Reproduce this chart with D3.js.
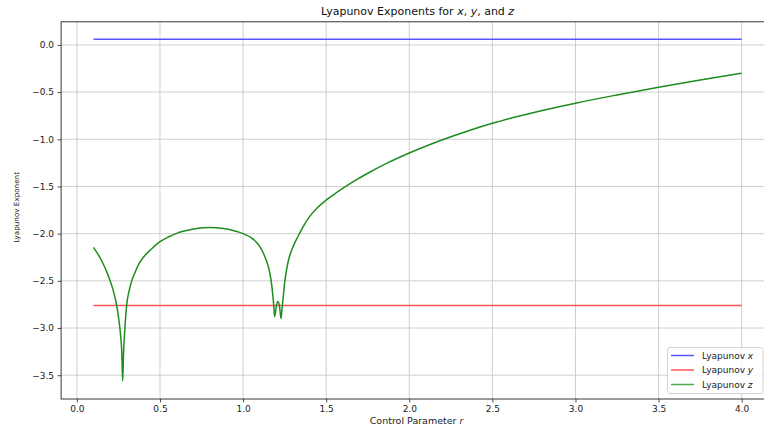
<!DOCTYPE html>
<html>
<head>
<meta charset="utf-8">
<script src="https://cdn.jsdelivr.net/npm/d3@7"></script>
<style>
  html, body { margin: 0; padding: 0; background: #fff; }
  svg { display: block; font-family: "DejaVu Sans", sans-serif; }
</style>
</head>
<body>
<svg id="chart" width="764" height="427"></svg>
<script>
// ---- data ----
const rStart = 0.1, rEnd = 4.0;
const lyapX = 0.06;          // constant exponent for x
const lyapY = -2.76;         // constant exponent for y
// exponent for z: r values and exponent values
const zR = [0.10, 0.15, 0.19, 0.215, 0.235, 0.25, 0.262, 0.27, 0.2755,
            0.281, 0.289, 0.2996, 0.315, 0.33, 0.35, 0.37, 0.40, 0.45, 0.50, 0.55, 0.60, 0.64, 0.72, 0.80, 0.88, 0.94, 0.97, 1.00,
            1.05, 1.08, 1.10, 1.12, 1.14, 1.155, 1.167, 1.177, 1.184, 1.19,
            1.20, 1.21, 1.22, 1.228,
            1.235, 1.242, 1.25, 1.26, 1.272, 1.285, 1.30, 1.33, 1.36, 1.40, 1.45, 1.50, 1.55, 1.613, 1.68, 1.75, 1.875,
            2.0, 2.125, 2.25, 2.375, 2.5, 2.625, 2.75, 3.0, 3.25, 3.5, 3.75, 4.0];
const zV = [-2.145, -2.29, -2.45, -2.58, -2.72, -2.88, -3.06, -3.25, -3.56,
            -3.25, -3.00, -2.756, -2.60, -2.50, -2.41, -2.33, -2.25, -2.16, -2.085, -2.035, -1.997, -1.975, -1.945, -1.935, -1.945, -1.966, -1.981, -2.00,
            -2.045, -2.09, -2.135, -2.20, -2.285, -2.37, -2.48, -2.62, -2.75, -2.88,
            -2.77, -2.72, -2.78, -2.90,
            -2.78, -2.66, -2.52, -2.40, -2.29, -2.21, -2.14, -2.03, -1.93, -1.82, -1.72, -1.645, -1.58, -1.505, -1.43, -1.36, -1.245,
            -1.145, -1.055, -0.973, -0.898, -0.83, -0.77, -0.715, -0.617, -0.53, -0.448, -0.372, -0.30];
const xTicks = [0.0, 0.5, 1.0, 1.5, 2.0, 2.5, 3.0, 3.5, 4.0];
const yTicks = [0.0, -0.5, -1.0, -1.5, -2.0, -2.5, -3.0, -3.5];
const seriesNames = ["x", "y", "z"];
const seriesColors = ["#5555ff", "#ff5555", "#1f8c1f"];
const legendColors = ["#5555ff", "#ff5555", "#55aa55"];

// ---- layout ----
const svg = d3.select("#chart");
const pL = 61.1, pR = 774.1, pT = 21.8, pB = 399;
const x = d3.scaleLinear().domain([-0.095, 4.195]).range([pL, pR]);
const y = d3.scaleLinear().domain([-3.752, 0.245]).range([pB, pT]);
const fmt = d => (d < 0 ? "\u2212" : "") + Math.abs(d).toFixed(1);

svg.append("defs").append("clipPath").attr("id", "clip")
  .append("rect").attr("x", pL).attr("y", pT).attr("width", pR - pL).attr("height", pB - pT);

// grid
const grid = svg.append("g").attr("stroke", "#c9c9c9").attr("stroke-width", 0.9);
grid.selectAll("line.v").data(xTicks).join("line").attr("class", "v")
  .attr("x1", d => x(d)).attr("x2", d => x(d)).attr("y1", pT).attr("y2", pB);
grid.selectAll("line.h").data(yTicks).join("line").attr("class", "h")
  .attr("y1", d => y(d)).attr("y2", d => y(d)).attr("x1", pL).attr("x2", pR);

// lines
const plot = svg.append("g").attr("clip-path", "url(#clip)").attr("fill", "none").attr("stroke-width", 1.5);
plot.append("path").datum([[rStart, lyapX], [rEnd, lyapX]])
  .attr("stroke", seriesColors[0]).attr("d", d3.line().x(d => x(d[0])).y(d => y(d[1])));
plot.append("path").datum([[rStart, lyapY], [rEnd, lyapY]])
  .attr("stroke", seriesColors[1]).attr("d", d3.line().x(d => x(d[0])).y(d => y(d[1])));
plot.append("path").datum(zR.map((r, i) => [r, zV[i]]))
  .attr("stroke", seriesColors[2]).attr("stroke-linejoin", "round")
  .attr("d", d3.line().curve(d3.curveMonotoneX).x(d => x(d[0])).y(d => y(d[1])));

// axes
const xAxis = svg.append("g").attr("transform", `translate(0,${pB})`)
  .call(d3.axisBottom(x).tickValues(xTicks).tickFormat(fmt).tickSizeOuter(0).tickSize(3.5).tickPadding(3.5));
const yAxis = svg.append("g").attr("transform", `translate(${pL},0)`)
  .call(d3.axisLeft(y).tickValues(yTicks).tickFormat(fmt).tickSizeOuter(0).tickSize(3.5).tickPadding(3.5));
[xAxis, yAxis].forEach(a => {
  a.select(".domain").remove();
  a.selectAll("text").attr("font-family", "DejaVu Sans").attr("font-size", 9).attr("fill", "#222");
  a.selectAll("line").attr("stroke", "#222").attr("stroke-width", 0.8);
});

// frame
svg.append("rect").attr("x", pL).attr("y", pT).attr("width", pR - pL).attr("height", pB - pT)
  .attr("fill", "none").attr("stroke", "#222").attr("stroke-width", 0.9);

// title
const title = svg.append("text").attr("x", (pL + pR) / 2).attr("y", 15)
  .attr("text-anchor", "middle").attr("font-size", 11).attr("fill", "#111");
title.append("tspan").text("Lyapunov Exponents for ");
title.append("tspan").attr("font-style", "italic").text("x");
title.append("tspan").text(", ");
title.append("tspan").attr("font-style", "italic").text("y");
title.append("tspan").text(", and ");
title.append("tspan").attr("font-style", "italic").text("z");

// axis labels
const xl = svg.append("text").attr("x", (pL + pR) / 2 - 1).attr("y", 424)
  .attr("text-anchor", "middle").attr("font-size", 9.5).attr("fill", "#222");
xl.append("tspan").text("Control Parameter ");
xl.append("tspan").attr("font-style", "italic").text("r");

svg.append("text").attr("transform", `translate(19,${(pT + pB) / 2 - 3}) rotate(-90)`)
  .attr("text-anchor", "middle").attr("font-size", 7.2).attr("fill", "#222")
  .text("Lyapunov Exponent");

// legend
const lg = svg.append("g");
lg.append("rect").attr("x", 667.5).attr("y", 347.5).attr("width", 95.5).attr("height", 46)
  .attr("rx", 2.5).attr("fill", "rgba(255,255,255,0.85)").attr("stroke", "#d0d0d0").attr("stroke-width", 0.9);
seriesNames.forEach((n, i) => {
  const yy = 355.5 + i * 14.5;
  lg.append("line").attr("x1", 671).attr("x2", 694).attr("y1", yy).attr("y2", yy)
    .attr("stroke", legendColors[i]).attr("stroke-width", 1.5);
  const t = lg.append("text").attr("x", 702).attr("y", yy + 3.2).attr("font-size", 9).attr("fill", "#222");
  t.append("tspan").text("Lyapunov ");
  t.append("tspan").attr("font-style", "italic").text(n);
});
</script>
</body>
</html>
